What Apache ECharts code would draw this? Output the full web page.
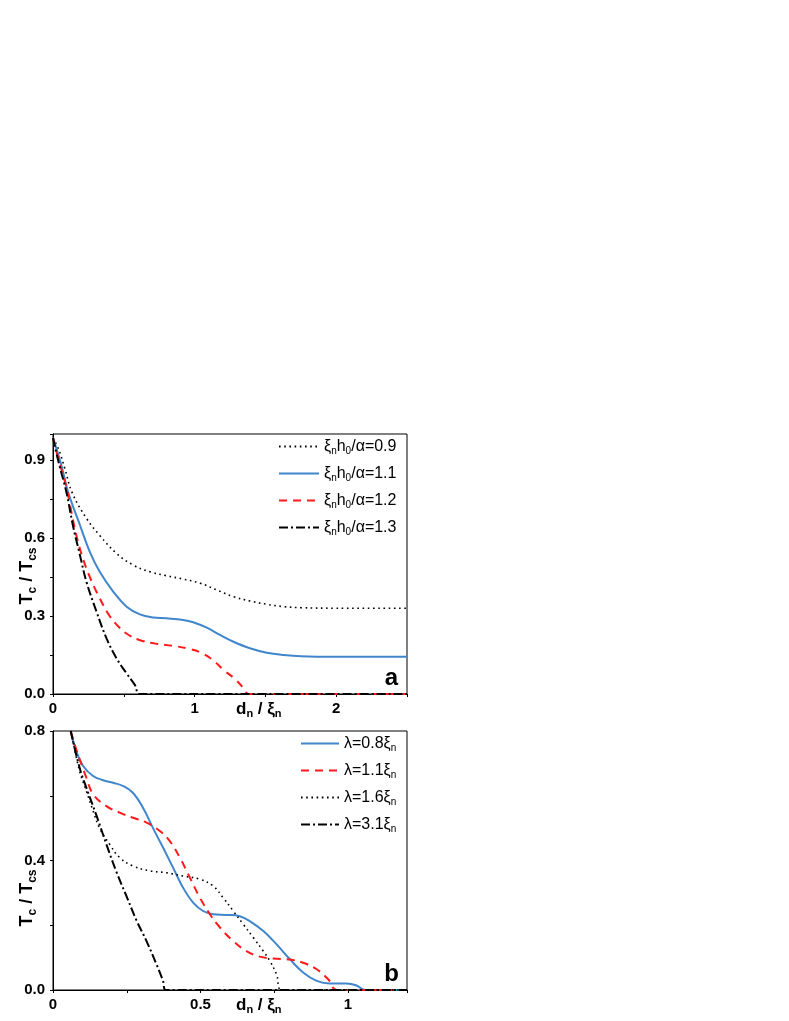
<!DOCTYPE html>
<html>
<head>
<meta charset="utf-8">
<script src="https://cdn.jsdelivr.net/npm/echarts@6/dist/echarts.min.js"></script>
<style>
html,body{margin:0;padding:0;background:#fff;}
#chart{width:789px;height:1021px;}
</style>
</head>
<body>
<div id="chart"></div>
<script>
// ---------- Panel a data: x = d_n/xi_n, y = Tc/Tcs ----------
const a09 = [[0,0.985],[0.042,0.938],[0.083,0.868],[0.137,0.772],[0.236,0.676],[0.33,0.61],[0.45,0.54],[0.567,0.496],[0.685,0.47],[0.80,0.455],[0.92,0.442],[1.04,0.426],[1.157,0.40],[1.275,0.374],[1.39,0.358],[1.51,0.345],[1.63,0.336],[1.75,0.332],[2.0,0.33],[2.5,0.33]];
const a11 = [[0,0.985],[0.059,0.88],[0.106,0.778],[0.19,0.65],[0.26,0.547],[0.33,0.47],[0.425,0.394],[0.52,0.336],[0.614,0.306],[0.708,0.294],[0.80,0.291],[0.92,0.285],[0.99,0.276],[1.086,0.255],[1.18,0.227],[1.275,0.201],[1.39,0.176],[1.51,0.159],[1.63,0.15],[1.75,0.145],[2.0,0.143],[2.5,0.143]];
const a12 = [[0,0.985],[0.04,0.9],[0.094,0.797],[0.13,0.70],[0.165,0.61],[0.212,0.52],[0.26,0.45],[0.33,0.368],[0.40,0.30],[0.47,0.255],[0.54,0.225],[0.614,0.207],[0.73,0.193],[0.85,0.185],[0.95,0.175],[1.04,0.16],[1.13,0.13],[1.21,0.09],[1.28,0.06],[1.35,0.02],[1.38,0],[2.5,0]];
const a13 = [[0,0.985],[0.04,0.89],[0.094,0.778],[0.14,0.65],[0.19,0.535],[0.236,0.432],[0.307,0.317],[0.378,0.214],[0.449,0.137],[0.52,0.079],[0.578,0.035],[0.614,0],[2.5,0]];

// ---------- Panel b data ----------
const b08 = [[0.06,0.8],[0.079,0.738],[0.102,0.692],[0.136,0.661],[0.17,0.648],[0.204,0.64],[0.238,0.63],[0.27,0.61],[0.305,0.563],[0.339,0.50],[0.373,0.44],[0.407,0.378],[0.441,0.316],[0.475,0.27],[0.509,0.244],[0.543,0.234],[0.588,0.232],[0.633,0.228],[0.667,0.213],[0.713,0.182],[0.758,0.141],[0.803,0.095],[0.848,0.054],[0.894,0.028],[0.939,0.02],[0.995,0.02],[1.029,0.014],[1.058,0],[1.2,0]];
const b11 = [[0.06,0.8],[0.079,0.743],[0.113,0.656],[0.136,0.605],[0.181,0.568],[0.226,0.548],[0.271,0.532],[0.317,0.517],[0.362,0.491],[0.396,0.46],[0.43,0.409],[0.464,0.347],[0.498,0.285],[0.532,0.234],[0.566,0.193],[0.611,0.151],[0.656,0.12],[0.701,0.103],[0.747,0.097],[0.803,0.094],[0.848,0.084],[0.894,0.064],[0.933,0.033],[0.962,0],[1.2,0]];
const b16 = [[0.06,0.8],[0.09,0.677],[0.113,0.615],[0.136,0.553],[0.158,0.50],[0.192,0.45],[0.226,0.409],[0.271,0.383],[0.328,0.368],[0.385,0.362],[0.441,0.352],[0.498,0.342],[0.543,0.321],[0.577,0.285],[0.611,0.244],[0.645,0.203],[0.679,0.162],[0.713,0.12],[0.735,0.09],[0.758,0.048],[0.775,0],[1.2,0]];
const b31 = [[0.06,0.8],[0.09,0.687],[0.113,0.625],[0.147,0.54],[0.181,0.45],[0.215,0.365],[0.249,0.29],[0.283,0.215],[0.317,0.151],[0.351,0.079],[0.373,0.028],[0.382,0],[1.2,0]];

// ---------- tick labels ----------
const xTicksA = [0, 1, 2];
const yTicksA = [0, 0.3, 0.6, 0.9];
const xTicksB = [0, 0.5, 1];
const yTicksB = [0, 0.4, 0.8];

// legend names
const namesA = ['0.9', '1.1', '1.2', '1.3'];
const namesB = ['0.8', '1.1', '1.6', '3.1'];

const FONT = 'Liberation Sans';
const BLUE = '#3f86cc';
const RED = '#ff1a1a';

function has(arr, v){ return arr.some(t => Math.abs(t - v) < 1e-7); }
function fmtX(arr){ return v => has(arr, v) ? String(+(+v).toFixed(2)) : ''; }
function fmtY(arr){ return v => has(arr, v) ? (+v).toFixed(1) : ''; }

const richLegend = {
  t: {fontFamily: FONT, fontSize: 16, lineHeight: 16, color: '#000'},
  s: {fontFamily: FONT, fontSize: 10, lineHeight: 7, padding: [9,0,0,0], color: '#000'}
};

function axisCommon(){
  return {
    axisLine: {show: true, lineStyle: {color: '#000', width: 1}},
    axisTick: {show: true, inside: false, length: 3, lineStyle: {color: '#000', width: 1}},
    splitLine: {show: false},
  };
}

const styles = {
  dotted: {color: '#000', width: 1.6, type: [1.6, 3.6]},
  solid: {color: BLUE, width: 2, type: 'solid'},
  dashed: {color: RED, width: 2, type: [8, 6]},
  dashdot: {color: '#000', width: 2, type: [9, 3, 2, 3]}
};

function ser(name, data, st, idx){
  return {
    name: name, type: 'line', data: data, xAxisIndex: idx, yAxisIndex: idx,
    symbol: 'none', showSymbol: false, smooth: 0.4,
    lineStyle: st, itemStyle: {color: st.color}, animation: false, z: 3
  };
}

const legendCommon = {
  orient: 'vertical', itemGap: 8, itemHeight: 16, selectedMode: false, padding: 0,
  itemStyle: {opacity: 0, color: 'rgba(0,0,0,0)', borderWidth: 0},
  textStyle: {rich: richLegend, fontFamily: FONT, fontSize: 16, color: '#000'}
};

const option = {
  backgroundColor: '#fff',
  animation: false,
  grid: [
    {left: 53, top: 434, width: 354, height: 260, show: true, borderColor: '#000', borderWidth: 1, backgroundColor: 'transparent'},
    {left: 53, top: 731, width: 354, height: 259, show: true, borderColor: '#000', borderWidth: 1, backgroundColor: 'transparent'}
  ],
  xAxis: [
    Object.assign(axisCommon(), {type: 'value', gridIndex: 0, min: 0, max: 2.5, interval: 0.5,
      axisLabel: {formatter: fmtX(xTicksA), fontFamily: FONT, fontWeight: 'bold', fontSize: 15, color: '#000', margin: 7}}),
    Object.assign(axisCommon(), {type: 'value', gridIndex: 1, min: 0, max: 1.2, interval: 0.25,
      axisLabel: {formatter: fmtX(xTicksB), fontFamily: FONT, fontWeight: 'bold', fontSize: 15, color: '#000', margin: 7}})
  ],
  yAxis: [
    Object.assign(axisCommon(), {type: 'value', gridIndex: 0, min: 0, max: 1.0, interval: 0.15,
      axisLabel: {formatter: fmtY(yTicksA), fontFamily: FONT, fontWeight: 'bold', fontSize: 15, color: '#000', margin: 8}}),
    Object.assign(axisCommon(), {type: 'value', gridIndex: 1, min: 0, max: 0.8, interval: 0.2,
      axisLabel: {formatter: fmtY(yTicksB), fontFamily: FONT, fontWeight: 'bold', fontSize: 15, color: '#000', margin: 8}})
  ],
  legend: [
    Object.assign({}, legendCommon, {
      data: namesA.map(n => 'a' + n), left: 278, top: 437, itemWidth: 40,
      formatter: n => '{t|ξ}{s|n}{t|h}{s|0}{t|/α=' + n.slice(1) + '}'
    }),
    Object.assign({}, legendCommon, {
      data: namesB.map(n => 'b' + n), left: 300, top: 734, itemWidth: 38,
      formatter: n => '{t|λ=' + n.slice(1) + 'ξ}{s|n}'
    })
  ],
  series: [
    ser('a0.9', a09, styles.dotted, 0),
    ser('a1.1', a11, styles.solid, 0),
    ser('a1.2', a12, styles.dashed, 0),
    ser('a1.3', a13, styles.dashdot, 0),
    ser('b0.8', b08, styles.solid, 1),
    ser('b1.1', b11, styles.dashed, 1),
    ser('b1.6', b16, styles.dotted, 1),
    ser('b3.1', b31, styles.dashdot, 1)
  ],
  graphic: [
    {type: 'text', x: 236, y: 700, z: 10, style: {
      text: '{b|d}{bs|n}{b| / ξ}{bs|n}',
      rich: {b: {fontFamily: FONT, fontWeight: 'bold', fontSize: 17, lineHeight: 18, fill: '#000'},
             bs: {fontFamily: FONT, fontWeight: 'bold', fontSize: 11, lineHeight: 8, padding: [10,0,0,0], fill: '#000'}}
    }},
    {type: 'text', x: 236, y: 996, z: 10, style: {
      text: '{b|d}{bs|n}{b| / ξ}{bs|n}',
      rich: {b: {fontFamily: FONT, fontWeight: 'bold', fontSize: 17, lineHeight: 18, fill: '#000'},
             bs: {fontFamily: FONT, fontWeight: 'bold', fontSize: 11, lineHeight: 8, padding: [10,0,0,0], fill: '#000'}}
    }},
    {type: 'text', x: 27, y: 576, rotation: Math.PI / 2, z: 10, style: {
      text: '{b|T}{bs|c}{b| / T}{bs|cs}', align: 'center', verticalAlign: 'middle',
      rich: {b: {fontFamily: FONT, fontWeight: 'bold', fontSize: 18, lineHeight: 20, fill: '#000'},
             bs: {fontFamily: FONT, fontWeight: 'bold', fontSize: 12, lineHeight: 8, padding: [11,0,0,0], fill: '#000'}}
    }},
    {type: 'text', x: 27, y: 898, rotation: Math.PI / 2, z: 10, style: {
      text: '{b|T}{bs|c}{b| / T}{bs|cs}', align: 'center', verticalAlign: 'middle',
      rich: {b: {fontFamily: FONT, fontWeight: 'bold', fontSize: 18, lineHeight: 20, fill: '#000'},
             bs: {fontFamily: FONT, fontWeight: 'bold', fontSize: 12, lineHeight: 8, padding: [11,0,0,0], fill: '#000'}}
    }},
    {type: 'text', x: 398, y: 690, z: 10, style: {text: 'a', align: 'right', verticalAlign: 'bottom',
      fontFamily: FONT, fontWeight: 'bold', fontSize: 24, fill: '#000'}},
    {type: 'text', x: 399, y: 986, z: 10, style: {text: 'b', align: 'right', verticalAlign: 'bottom',
      fontFamily: FONT, fontWeight: 'bold', fontSize: 24, fill: '#000'}}
  ]
};

const chart = echarts.init(document.getElementById('chart'), null, {renderer: 'canvas'});
chart.setOption(option);
</script>
</body>
</html>
